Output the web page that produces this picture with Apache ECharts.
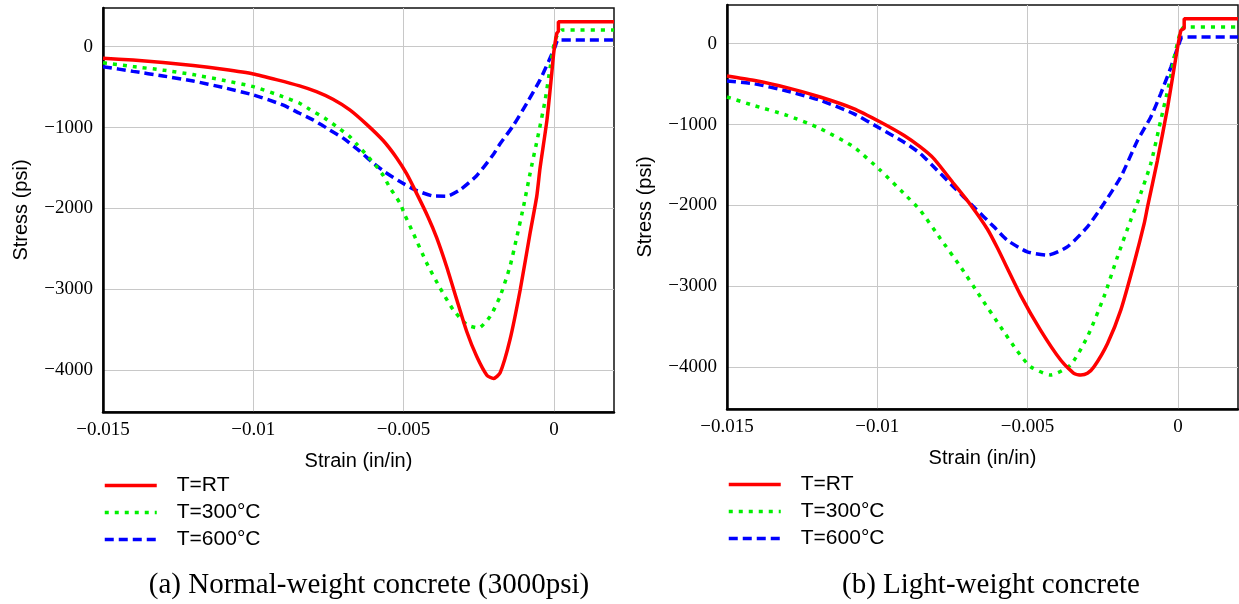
<!DOCTYPE html>
<html>
<head>
<meta charset="utf-8">
<script src="https://cdn.jsdelivr.net/npm/echarts@6/dist/echarts.min.js"></script>
<style>
html,body{margin:0;padding:0;background:#fff;}
#c{width:1239px;height:604px;}
</style>
</head>
<body>
<div id="c"></div>
<script>
// ---------- data (strain in/in, stress psi) ----------
const seriesNames = ['T=RT', 'T=300°C', 'T=600°C'];
const xTicks = [-0.015, -0.01, -0.005, 0];
const yTicks = [-4000, -3000, -2000, -1000, 0];
const captions = ['(a) Normal-weight concrete (3000psi)', '(b) Light-weight concrete'];

// (a) Normal-weight concrete
const normalRT = [
  [-0.015,-143],[-0.014,-165],[-0.013,-195],[-0.012,-232],[-0.011,-280],[-0.010,-337],
  [-0.0092,-410],[-0.00846,-485],[-0.0079,-556],[-0.00735,-650],[-0.00679,-781],[-0.00623,-960],
  [-0.00568,-1160],[-0.00523,-1375],[-0.0049,-1570],[-0.00457,-1810],[-0.00418,-2110],[-0.0039,-2360],
  [-0.00357,-2716],[-0.00323,-3127],[-0.0029,-3520],[-0.00257,-3827],[-0.00223,-4060],[-0.00201,-4102],
  [-0.00179,-4032],[-0.00146,-3621],[-0.00112,-3004],[-0.00079,-2300],[-0.00057,-1850],[-0.00046,-1500],
  [-0.00023,-905],[-0.00007,-325],[0,-60],[0.0001,169],[0.00015,190],[0.00015,309],[0.002,309]
];
const normal300 = [
  [-0.015,-198],[-0.014,-245],[-0.013,-290],[-0.012,-345],[-0.011,-415],[-0.010,-494],
  [-0.00902,-617],[-0.00846,-699],[-0.00812,-775],[-0.00762,-884],[-0.00718,-1000],[-0.00679,-1111],
  [-0.00657,-1200],[-0.00623,-1340],[-0.0059,-1481],[-0.00568,-1590],[-0.00546,-1740],[-0.00512,-1934],
  [-0.00496,-2078],[-0.00468,-2304],[-0.00423,-2675],[-0.00379,-2980],[-0.00335,-3251],[-0.0029,-3436],
  [-0.00251,-3477],[-0.00212,-3333],[-0.00179,-3086],[-0.00146,-2716],[-0.00123,-2346],[-0.00101,-1975],
  [-0.00079,-1563],[-0.00051,-1070],[-0.00029,-658],[-0.00012,-247],[0.00004,83],[0.00027,206],[0.002,206]
];
const normal600 = [
  [-0.015,-247],[-0.014,-305],[-0.013,-362],[-0.012,-425],[-0.011,-505],[-0.010,-596],
  [-0.00902,-720],[-0.00846,-823],[-0.00801,-905],[-0.00746,-1028],[-0.00701,-1131],[-0.00651,-1275],
  [-0.00607,-1420],[-0.00562,-1550],[-0.00512,-1667],[-0.00462,-1769],[-0.00401,-1845],[-0.00357,-1848],
  [-0.00312,-1769],[-0.00257,-1595],[-0.00201,-1330],[-0.00179,-1200],[-0.00135,-975],[-0.0009,-699],
  [-0.00046,-411],[-0.00018,-185],[0.00004,0],[0.00015,83],[0.002,83]
];

// (b) Light-weight concrete
const lightRT = [
  [-0.015,-400],[-0.01412,-453],[-0.01301,-543],[-0.0119,-659],[-0.01079,-802],[-0.0099,-968],
  [-0.00912,-1132],[-0.00857,-1276],[-0.00812,-1420],[-0.00746,-1728],[-0.0069,-1990],[-0.00634,-2290],
  [-0.00601,-2520],[-0.00523,-3110],[-0.00457,-3540],[-0.0039,-3910],[-0.00346,-4074],
  [-0.00323,-4095],[-0.00301,-4074],[-0.00279,-3993],[-0.00234,-3704],[-0.0019,-3293],[-0.00146,-2716],
  [-0.00112,-2222],[-0.00101,-2017],[-0.00068,-1441],[-0.00034,-783],[-0.00012,-289],[0.0001,164],
  [0.00021,190],[0.00021,309],[0.002,309]
];
const light300 = [
  [-0.015,-659],[-0.01412,-762],[-0.01301,-885],[-0.0119,-1049],[-0.01079,-1276],[-0.0099,-1564],
  [-0.00912,-1850],[-0.00857,-2060],[-0.0079,-2410],[-0.00723,-2758],[-0.00657,-3128],
  [-0.0059,-3499],[-0.00534,-3800],[-0.0049,-3993],[-0.00423,-4095],[-0.00357,-3971],[-0.00301,-3622],
  [-0.00246,-3128],[-0.00201,-2634],[-0.00157,-2181],[-0.00134,-1960],[-0.0009,-1481],[-0.00057,-947],
  [-0.00029,-494],[-0.00007,-83],[0.00021,205],[0.002,205]
];
const light600 = [
  [-0.015,-462],[-0.01412,-494],[-0.01301,-585],[-0.0119,-700],[-0.01079,-864],[-0.0099,-1049],
  [-0.00912,-1215],[-0.00857,-1358],[-0.00801,-1564],[-0.00746,-1770],[-0.00679,-2017],
  [-0.00612,-2264],[-0.00568,-2428],[-0.00501,-2572],[-0.00434,-2614],[-0.00368,-2511],[-0.00301,-2264],
  [-0.00246,-1975],[-0.0019,-1647],[-0.00134,-1194],[-0.0009,-906],[-0.00057,-617],
  [-0.00023,-289],[0.00004,0],[0.00016,81],[0.002,81]
];

// ---------- styles ----------
const colors = ['#ff0000', '#00f000', '#0000ff'];
const lineStyles = [
  {color:colors[0], width:3.5, type:'solid'},
  {color:colors[1], width:3.5, type:[4,6], cap:'butt'},
  {color:colors[2], width:3.5, type:[9,5], cap:'butt'}
];
const serifFont = 'Liberation Serif, Times New Roman, serif';
const sansFont = 'Liberation Sans, Arial, sans-serif';

function fmtY(v){
  return v < 0 ? '{m|\u2212}{d|' + Math.abs(v) + '}' : '{d|' + v + '}';
}
function fmtX(v){
  const a = parseFloat(Math.abs(v).toFixed(4));
  return v < 0 ? '{m|\u2212}{d|' + a + '}' : '{d|' + a + '}';
}
const richLab = {
  m:{fontFamily:serifFont, fontSize:19, color:'#000', lineHeight:2, verticalAlign:'top'},
  d:{fontFamily:serifFont, fontSize:19, color:'#000', lineHeight:19}
};

const grids = [
  {left:103, top:8, width:511, height:404},
  {left:727, top:5, width:511, height:404}
];

function xAxisFor(i){
  return {
    type:'value', gridIndex:i, min:-0.015, max:0.002,
    name:'Strain (in/in)', nameLocation:'middle', nameGap:39,
    nameTextStyle:{fontFamily:sansFont, fontSize:20, color:'#000'},
    axisLine:{show:true, onZero:false, lineStyle:{color:'#000', width:2.5}},
    axisTick:{show:false, customValues:xTicks},
    axisLabel:{customValues:xTicks, formatter:fmtX, rich:richLab, margin:9},
    splitLine:{show:true, lineStyle:{color:'#c8c8c8', width:1}}
  };
}
function yAxisFor(i){
  return {
    type:'value', gridIndex:i, min:-4515, max:478,
    name:'Stress (psi)', nameLocation:'middle', nameGap:72,
    nameTextStyle:{fontFamily:sansFont, fontSize:20, color:'#000'},
    axisLine:{show:true, onZero:false, lineStyle:{color:'#000', width:2.5}},
    axisTick:{show:false, customValues:yTicks},
    axisLabel:{customValues:yTicks, formatter:fmtY, rich:richLab, margin:10},
    splitLine:{show:true, lineStyle:{color:'#c8c8c8', width:1}}
  };
}

const dataSets = [[normalRT, normal300, normal600],[lightRT, light300, light600]];
const series = [];
dataSets.forEach((set, gi) => {
  set.forEach((d, si) => {
    series.push({
      type:'line', name:seriesNames[si], xAxisIndex:gi, yAxisIndex:gi,
      data:d, symbol:'none', showSymbol:false, smooth:0.2,
      itemStyle:{color:colors[si]},
      lineStyle:lineStyles[si], z:10 - si, animation:false
    });
  });
});

function legendFor(left, top){
  return {
    orient:'vertical', left:left, top:top, data:seriesNames, padding:0,
    itemWidth:52, itemHeight:14, itemGap:6, selectedMode:false,
    itemStyle:{opacity:0},
    lineStyle:{width:3.5},
    textStyle:{fontFamily:sansFont, fontSize:21, color:'#000', lineHeight:21, padding:[0,0,0,15]}
  };
}

const chart = echarts.init(document.getElementById('c'), null, {renderer:'canvas'});
chart.setOption({
  animation:false,
  backgroundColor:'#fff',
  grid: grids.map(g => Object.assign({show:true, borderColor:'#111', borderWidth:1.5, backgroundColor:'transparent'}, g)),
  xAxis:[xAxisFor(0), xAxisFor(1)],
  yAxis:[yAxisFor(0), yAxisFor(1)],
  legend:[legendFor(103, 475), legendFor(727, 474)],
  series:series,
  graphic:[
    {type:'text', x:369, y:585, style:{text:captions[0], font:'29px ' + serifFont, fill:'#000', textAlign:'center', textVerticalAlign:'middle'}},
    {type:'text', x:991, y:585, style:{text:captions[1], font:'29px ' + serifFont, fill:'#000', textAlign:'center', textVerticalAlign:'middle'}}
  ]
});
</script>
</body>
</html>
